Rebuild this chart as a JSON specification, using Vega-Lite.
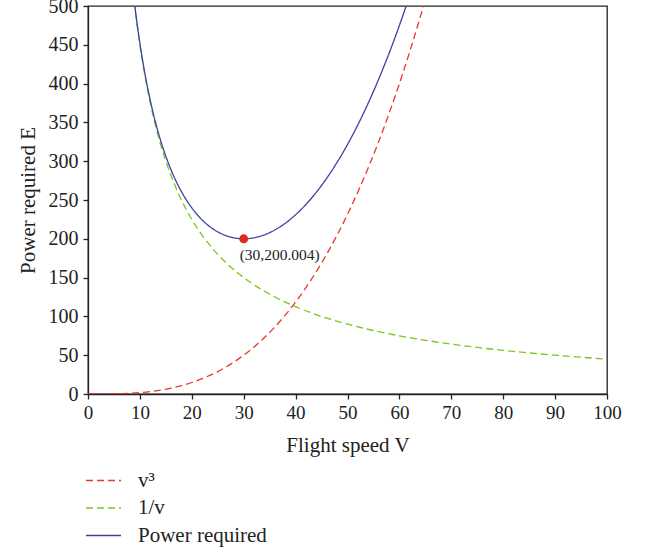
{
  "$schema": "https://vega.github.io/schema/vega-lite/v6.json",
  "width": 519,
  "height": 388,
  "autosize": {"type": "none"},
  "padding": {"left": 88, "top": 6, "right": 46, "bottom": 156},
  "config": {
    "font": "Liberation Serif",
    "view": {"stroke": "#222", "strokeWidth": 1.3},
    "axis": {"domainColor": "#222", "domainWidth": 1.3, "tickColor": "#222", "tickWidth": 1.3, "tickSize": 5, "labelFont": "Liberation Serif", "labelFontSize": 19, "labelColor": "#222", "labelOverlap": false, "labelFlush": false, "titleFont": "Liberation Serif", "titleFontSize": 21, "titleFontWeight": "normal", "titleColor": "#222", "grid": false},
    "legend": {"labelFont": "Liberation Serif", "labelFontSize": 21, "labelColor": "#222"}
  },
  "datasets": {
    "curves": [
      {"v": 0, "E": 0, "s": "v³"},
      {"v": 2, "E": 0.015, "s": "v³"},
      {"v": 4, "E": 0.119, "s": "v³"},
      {"v": 6, "E": 0.4, "s": "v³"},
      {"v": 8, "E": 0.948, "s": "v³"},
      {"v": 10, "E": 1.852, "s": "v³"},
      {"v": 12, "E": 3.2, "s": "v³"},
      {"v": 14, "E": 5.081, "s": "v³"},
      {"v": 16, "E": 7.585, "s": "v³"},
      {"v": 18, "E": 10.8, "s": "v³"},
      {"v": 20, "E": 14.815, "s": "v³"},
      {"v": 22, "E": 19.72, "s": "v³"},
      {"v": 24, "E": 25.6, "s": "v³"},
      {"v": 26, "E": 32.55, "s": "v³"},
      {"v": 28, "E": 40.65, "s": "v³"},
      {"v": 30, "E": 50, "s": "v³"},
      {"v": 32, "E": 60.68, "s": "v³"},
      {"v": 34, "E": 72.79, "s": "v³"},
      {"v": 36, "E": 86.4, "s": "v³"},
      {"v": 38, "E": 101.61, "s": "v³"},
      {"v": 40, "E": 118.52, "s": "v³"},
      {"v": 42, "E": 137.2, "s": "v³"},
      {"v": 44, "E": 157.75, "s": "v³"},
      {"v": 46, "E": 180.25, "s": "v³"},
      {"v": 48, "E": 204.8, "s": "v³"},
      {"v": 50, "E": 231.48, "s": "v³"},
      {"v": 52, "E": 260.39, "s": "v³"},
      {"v": 54, "E": 291.6, "s": "v³"},
      {"v": 56, "E": 325.21, "s": "v³"},
      {"v": 58, "E": 361.32, "s": "v³"},
      {"v": 60, "E": 400, "s": "v³"},
      {"v": 61, "E": 420.34, "s": "v³"},
      {"v": 62, "E": 441.35, "s": "v³"},
      {"v": 63, "E": 463.05, "s": "v³"},
      {"v": 64, "E": 485.45, "s": "v³"},
      {"v": 65, "E": 508.56, "s": "v³"},
      {"v": 8, "E": 562.5, "s": "1/v"},
      {"v": 9, "E": 500, "s": "1/v"},
      {"v": 10, "E": 450, "s": "1/v"},
      {"v": 11, "E": 409.09, "s": "1/v"},
      {"v": 12, "E": 375, "s": "1/v"},
      {"v": 13, "E": 346.15, "s": "1/v"},
      {"v": 14, "E": 321.43, "s": "1/v"},
      {"v": 15, "E": 300, "s": "1/v"},
      {"v": 16, "E": 281.25, "s": "1/v"},
      {"v": 17, "E": 264.71, "s": "1/v"},
      {"v": 18, "E": 250, "s": "1/v"},
      {"v": 19, "E": 236.84, "s": "1/v"},
      {"v": 20, "E": 225, "s": "1/v"},
      {"v": 22, "E": 204.55, "s": "1/v"},
      {"v": 24, "E": 187.5, "s": "1/v"},
      {"v": 26, "E": 173.08, "s": "1/v"},
      {"v": 28, "E": 160.71, "s": "1/v"},
      {"v": 30, "E": 150, "s": "1/v"},
      {"v": 32, "E": 140.63, "s": "1/v"},
      {"v": 34, "E": 132.35, "s": "1/v"},
      {"v": 36, "E": 125, "s": "1/v"},
      {"v": 38, "E": 118.42, "s": "1/v"},
      {"v": 40, "E": 112.5, "s": "1/v"},
      {"v": 43, "E": 104.65, "s": "1/v"},
      {"v": 46, "E": 97.83, "s": "1/v"},
      {"v": 50, "E": 90, "s": "1/v"},
      {"v": 55, "E": 81.82, "s": "1/v"},
      {"v": 60, "E": 75, "s": "1/v"},
      {"v": 65, "E": 69.23, "s": "1/v"},
      {"v": 70, "E": 64.29, "s": "1/v"},
      {"v": 75, "E": 60, "s": "1/v"},
      {"v": 80, "E": 56.25, "s": "1/v"},
      {"v": 85, "E": 52.94, "s": "1/v"},
      {"v": 90, "E": 50, "s": "1/v"},
      {"v": 95, "E": 47.37, "s": "1/v"},
      {"v": 100, "E": 45, "s": "1/v"},
      {"v": 8, "E": 563.45, "s": "Power required"},
      {"v": 9, "E": 501.35, "s": "Power required"},
      {"v": 10, "E": 451.85, "s": "Power required"},
      {"v": 11, "E": 411.56, "s": "Power required"},
      {"v": 12, "E": 378.2, "s": "Power required"},
      {"v": 13, "E": 350.22, "s": "Power required"},
      {"v": 14, "E": 326.51, "s": "Power required"},
      {"v": 15, "E": 306.25, "s": "Power required"},
      {"v": 16, "E": 288.84, "s": "Power required"},
      {"v": 17, "E": 273.81, "s": "Power required"},
      {"v": 18, "E": 260.8, "s": "Power required"},
      {"v": 19, "E": 249.54, "s": "Power required"},
      {"v": 20, "E": 239.82, "s": "Power required"},
      {"v": 21, "E": 231.44, "s": "Power required"},
      {"v": 22, "E": 224.27, "s": "Power required"},
      {"v": 23, "E": 218.18, "s": "Power required"},
      {"v": 24, "E": 213.1, "s": "Power required"},
      {"v": 25, "E": 208.94, "s": "Power required"},
      {"v": 26, "E": 205.63, "s": "Power required"},
      {"v": 27, "E": 203.12, "s": "Power required"},
      {"v": 28, "E": 201.36, "s": "Power required"},
      {"v": 29, "E": 200.33, "s": "Power required"},
      {"v": 30, "E": 200, "s": "Power required"},
      {"v": 31, "E": 200.33, "s": "Power required"},
      {"v": 32, "E": 201.31, "s": "Power required"},
      {"v": 33, "E": 202.91, "s": "Power required"},
      {"v": 34, "E": 205.14, "s": "Power required"},
      {"v": 35, "E": 207.97, "s": "Power required"},
      {"v": 36, "E": 211.4, "s": "Power required"},
      {"v": 37, "E": 215.42, "s": "Power required"},
      {"v": 38, "E": 220.03, "s": "Power required"},
      {"v": 39, "E": 225.23, "s": "Power required"},
      {"v": 40, "E": 231.02, "s": "Power required"},
      {"v": 41, "E": 237.39, "s": "Power required"},
      {"v": 42, "E": 244.34, "s": "Power required"},
      {"v": 43, "E": 251.89, "s": "Power required"},
      {"v": 44, "E": 260.02, "s": "Power required"},
      {"v": 45, "E": 268.75, "s": "Power required"},
      {"v": 46, "E": 278.08, "s": "Power required"},
      {"v": 47, "E": 288.01, "s": "Power required"},
      {"v": 48, "E": 298.55, "s": "Power required"},
      {"v": 49, "E": 309.71, "s": "Power required"},
      {"v": 50, "E": 321.48, "s": "Power required"},
      {"v": 51, "E": 333.89, "s": "Power required"},
      {"v": 52, "E": 346.93, "s": "Power required"},
      {"v": 53, "E": 360.61, "s": "Power required"},
      {"v": 54, "E": 374.93, "s": "Power required"},
      {"v": 55, "E": 389.92, "s": "Power required"},
      {"v": 56, "E": 405.57, "s": "Power required"},
      {"v": 57, "E": 421.9, "s": "Power required"},
      {"v": 58, "E": 438.91, "s": "Power required"},
      {"v": 59, "E": 456.6, "s": "Power required"},
      {"v": 60, "E": 475, "s": "Power required"},
      {"v": 61, "E": 494.11, "s": "Power required"},
      {"v": 62, "E": 513.93, "s": "Power required"}
    ],
    "minimum": [{"v": 30, "E": 200.004, "label": "(30,200.004)"}]
  },
  "encoding": {
    "x": {"field": "v", "type": "quantitative", "scale": {"domain": [0, 100], "nice": false}, "axis": {"title": "Flight speed V", "values": [0,10,20,30,40,50,60,70,80,90,100], "titlePadding": 12, "labelPadding": 4}},
    "y": {"field": "E", "type": "quantitative", "scale": {"domain": [0, 500], "nice": false}, "axis": {"title": "Power required E", "values": [0,50,100,150,200,250,300,350,400,450,500], "tickCount": 11, "titlePadding": 10, "labelPadding": 5, "labelFontSize": 20, "labelOverlap": false}}
  },
  "layer": [
    {
      "data": {"name": "curves"},
      "mark": {"type": "line", "clip": true, "strokeWidth": 1.3, "interpolate": "monotone"},
      "encoding": {
        "color": {"field": "s", "type": "nominal", "scale": {"domain": ["v³", "1/v", "Power required"], "range": ["#e6372c", "#78c814", "#3c40a6"]}, "legend": {"title": null, "orient": "none", "legendX": 5, "legendY": 464, "symbolType": "M-3,0H3", "symbolSize": 136, "symbolStrokeWidth": 1.5, "rowPadding": 5.5, "labelOffset": 24, "padding": 0}},
        "strokeDash": {"field": "s", "type": "nominal", "scale": {"domain": ["v³", "1/v", "Power required"], "range": [[7, 4], [7, 4], [1, 0]]}, "legend": {"title": null, "orient": "none", "legendX": 5, "legendY": 464, "symbolType": "M-3,0H3", "symbolSize": 136, "symbolStrokeWidth": 1.5, "rowPadding": 5.5, "labelOffset": 24, "padding": 0}},
        "order": {"field": "v", "type": "quantitative"}
      }
    },
    {
      "data": {"name": "minimum"},
      "mark": {"type": "point", "filled": true, "color": "#e0281e", "size": 80, "opacity": 1}
    },
    {
      "data": {"name": "minimum"},
      "mark": {"type": "text", "align": "left", "baseline": "middle", "dx": -4, "dy": 16, "fontSize": 15.5, "color": "#222"},
      "encoding": {
        "text": {"field": "label"}
      }
    }
  ]
}
